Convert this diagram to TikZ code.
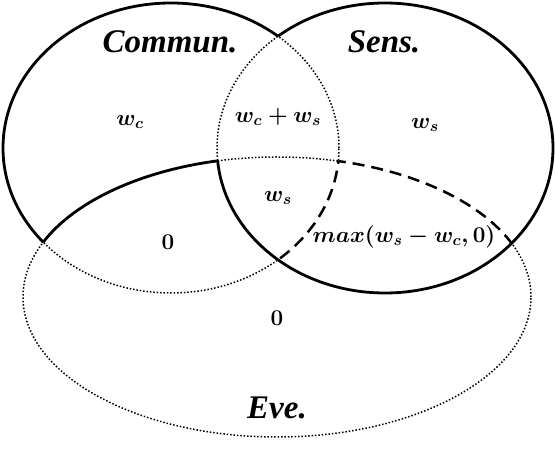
\RequirePackage{fix-cm}
\documentclass[tikz,border=0pt]{standalone}
\usepackage{fontspec}
\newfontfamily\labelfont{Liberation Serif}
\tikzset{
  solidl/.style={line width=2.8pt},
  dashl/.style={line width=2.5pt, dash pattern=on 12pt off 7pt},
  dotl/.style={line width=1.5pt, dash pattern=on 1.5pt off 1.9pt},
  setlab/.style={inner sep=0pt, font=\labelfont\fontsize{33}{36}\selectfont\bfseries\itshape},
  mth/.style={inner sep=0pt, font=\fontsize{22.5}{27}\selectfont\boldmath}
}
\def\Ca{(339,302) arc[start angle=0,end angle=360,x radius=168,y radius=145]}
\def\Cb{(553,302) arc[start angle=0,end angle=360,x radius=168,y radius=145]}
\def\Ev{(531,153) arc[start angle=0,end angle=360,x radius=254,y radius=140]}
\def\Frame{(-60,-60) -- (-60,510) -- (615,510) -- (615,-60) -- cycle}
\begin{document}
\begin{tikzpicture}[x=1pt,y=1pt]
\useasboundingbox[fill=white] (0,0) rectangle (555,450);
% Commun. ellipse
\begin{scope}\clip \Frame \Cb; \clip \Frame \Ev; \draw[solidl] \Ca; \end{scope}
\begin{scope}\clip \Cb; \clip \Ev; \draw[dashl] \Ca; \end{scope}
\begin{scope}\clip \Cb; \clip \Frame \Ev; \draw[dotl] \Ca; \end{scope}
\begin{scope}\clip \Frame \Cb; \clip \Ev; \draw[dotl] \Ca; \end{scope}
% Sens. ellipse
\begin{scope}\clip \Ca; \clip \Frame \Ev; \draw[dotl] \Cb; \end{scope}
\begin{scope}\clip \Frame \Ca; \draw[solidl] \Cb; \end{scope}
\begin{scope}\clip \Ca; \clip \Ev; \draw[solidl] \Cb; \end{scope}
% Eve ellipse
\begin{scope}\clip \Ca; \clip \Frame \Cb; \draw[solidl] \Ev; \end{scope}
\begin{scope}\clip \Ca; \clip \Cb; \draw[dotl] \Ev; \end{scope}
\begin{scope}\clip \Frame \Ca; \clip \Cb; \draw[dashl] \Ev; \end{scope}
\begin{scope}\clip \Frame \Ca; \clip \Frame \Cb; \draw[dotl] \Ev; \end{scope}
% labels
\node[setlab] (commun) at (170,408) {Commun.};
\node[setlab] (sens) at (384,408) {Sens.};
\node[setlab] (eve) at (277,42) {Eve.};
\node[mth] (wc) at (130,328) {$w_c$};
\node[mth] (wcs) at (278,333) {$w_c+w_s$};
\node[mth] (wsr) at (425,325) {$w_s$};
\node[mth] (wsm) at (278,252) {$w_s$};
\node[mth] (zl) at (168,208) {$0$};
\node[mth] (mx) at (404,213) {$max(w_s-w_c,0)$};
\node[mth] (zc) at (277,132) {$0$};
\end{tikzpicture}
\end{document}
